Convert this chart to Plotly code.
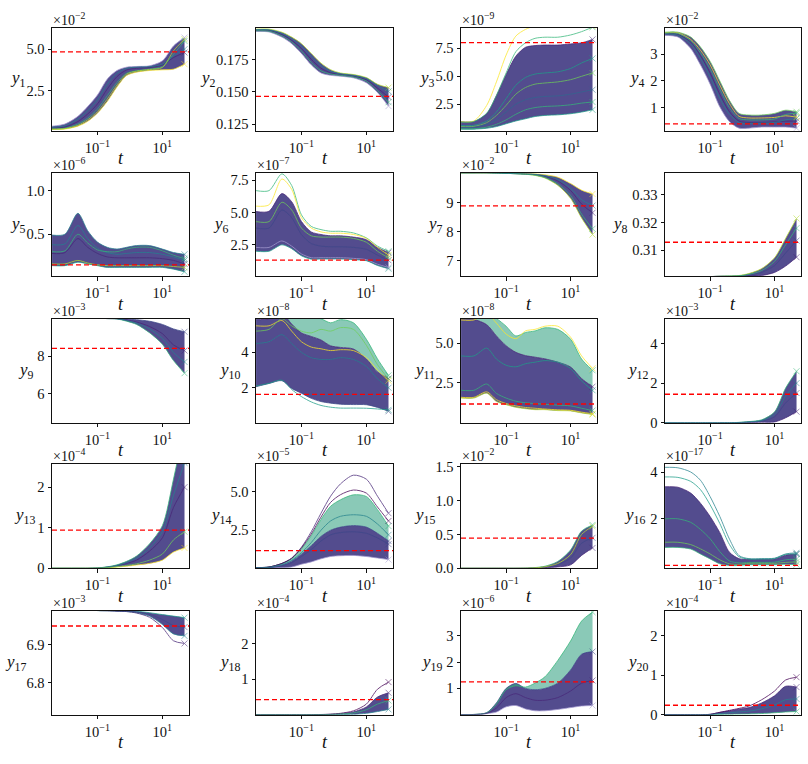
import plotly.graph_objects as go
from plotly.subplots import make_subplots

W, H = 808, 764

# time grid (shared by all panels)
T = [0.004, 0.01, 0.025, 0.05, 0.1, 0.2, 0.4, 0.79, 1.6, 4.0, 10, 22, 48]

# viridis colours
V = ['#440154', '#482878', '#3e4989', '#31688e', '#26828e',
     '#1f9e89', '#35b779', '#6ece58', '#b5de2b', '#fde725']
LAV = '#a49ad0'
CORE = 'rgba(64,56,130,0.9)'
OUTER = 'rgba(60,165,135,0.6)'

# ---- panel data (mantissas; exponent in EXPS) ----
Y1 = [[0.17, 0.2, 0.37, 0.66, 1.15, 1.85, 2.73, 3.42, 3.62, 3.72, 3.76, 3.8, 4.1],
      [0.37, 0.5, 0.96, 1.55, 2.24, 3.2, 3.72, 3.92, 3.96, 4.0, 4.3, 5.2, 5.7],
      [0.25, 0.32, 0.65, 1.1, 1.7, 2.6, 3.35, 3.75, 3.85, 3.9, 4.05, 4.5, 4.8],
      [0.2, 0.25, 0.5, 0.85, 1.4, 2.2, 3.0, 3.55, 3.7, 3.8, 3.95, 4.7, 5.5],
      [0.3, 0.4, 0.8, 1.3, 1.95, 2.9, 3.55, 3.85, 3.92, 3.95, 4.1, 4.6, 5.0],
      [0.19, 0.22, 0.42, 0.75, 1.25, 2.0, 2.85, 3.5, 3.68, 3.78, 3.9, 4.9, 5.6]]
Y1_C = [V[9], LAV, V[1], V[6], V[4], V[8]]

Y2 = [[0.1972, 0.1968, 0.1928, 0.1877, 0.1801, 0.1712, 0.1648, 0.1630, 0.1623, 0.1610, 0.1572, 0.1496, 0.1390],
      [0.1990, 0.1990, 0.1966, 0.1928, 0.1877, 0.1801, 0.1725, 0.1674, 0.1648, 0.1636, 0.1612, 0.1560, 0.1534],
      [0.1982, 0.1980, 0.1948, 0.1903, 0.1839, 0.1755, 0.1685, 0.1650, 0.1636, 0.1623, 0.1595, 0.1530, 0.1460],
      [0.1977, 0.1974, 0.1938, 0.1890, 0.1820, 0.1730, 0.1665, 0.1640, 0.1630, 0.1617, 0.1585, 0.1510, 0.1420],
      [0.1986, 0.1985, 0.1957, 0.1915, 0.1858, 0.1778, 0.1705, 0.1662, 0.1642, 0.1630, 0.1605, 0.1550, 0.1505]]
Y2_C = [LAV, V[8], V[1], V[6], V[4]]

Y3 = [[0.27, 0.27, 0.35, 0.5, 0.75, 1.0, 1.2, 1.4, 1.5, 1.55, 1.65, 1.8, 2.0],
      [0.93, 0.95, 1.66, 3.26, 5.15, 6.8, 7.6, 7.75, 7.8, 7.8, 7.9, 8.0, 8.3],
      [0.93, 1.0, 2.4, 4.5, 6.9, 8.6, 9.2, 9.5, 9.5, 9.5, 9.5, 9.5, 9.5],
      [0.9, 0.95, 1.7, 3.3, 5.3, 7.2, 8.0, 8.4, 8.5, 8.5, 8.7, 9.0, 9.4],
      [0.6, 0.62, 1.0, 1.8, 3.0, 4.2, 4.9, 5.2, 5.3, 5.4, 5.7, 6.2, 6.6],
      [0.5, 0.52, 0.85, 1.5, 2.4, 3.4, 4.0, 4.3, 4.4, 4.5, 4.7, 5.0, 5.3],
      [0.4, 0.42, 0.7, 1.1, 1.8, 2.5, 2.9, 3.1, 3.2, 3.25, 3.4, 3.6, 3.8],
      [0.3, 0.31, 0.45, 0.7, 1.1, 1.6, 2.0, 2.2, 2.3, 2.35, 2.45, 2.6, 2.7]]
Y3_C = [V[5], V[1], V[9], V[6], V[5], V[7], V[3], V[6]]

Y4 = [[3.70, 3.64, 3.21, 2.60, 1.88, 1.03, 0.48, 0.24, 0.24, 0.28, 0.28, 0.28, 0.24],
      [3.82, 3.82, 3.64, 3.27, 2.73, 2.00, 1.27, 0.79, 0.73, 0.73, 0.79, 0.91, 0.85],
      [3.78, 3.74, 3.45, 2.95, 2.30, 1.50, 0.85, 0.50, 0.45, 0.45, 0.47, 0.50, 0.50],
      [3.76, 3.70, 3.38, 2.85, 2.15, 1.35, 0.75, 0.45, 0.42, 0.43, 0.45, 0.55, 0.60],
      [3.80, 3.79, 3.55, 3.15, 2.60, 1.85, 1.15, 0.68, 0.62, 0.62, 0.64, 0.70, 0.65],
      [3.79, 3.77, 3.50, 3.05, 2.45, 1.70, 1.00, 0.60, 0.55, 0.55, 0.58, 0.75, 0.80]]
Y4_C = [LAV, V[7], V[1], V[4], V[9], V[6]]

Y5 = [[0.14, 0.14, 0.18, 0.16, 0.14, 0.12, 0.12, 0.12, 0.12, 0.12, 0.12, 0.10, 0.07],
      [0.49, 0.50, 0.74, 0.54, 0.41, 0.35, 0.33, 0.35, 0.37, 0.37, 0.33, 0.29, 0.27],
      [0.28, 0.29, 0.45, 0.35, 0.28, 0.24, 0.23, 0.23, 0.23, 0.23, 0.22, 0.20, 0.16],
      [0.38, 0.39, 0.60, 0.45, 0.34, 0.29, 0.27, 0.28, 0.29, 0.29, 0.27, 0.24, 0.20],
      [0.30, 0.31, 0.50, 0.40, 0.32, 0.30, 0.30, 0.33, 0.35, 0.35, 0.31, 0.26, 0.22],
      [0.16, 0.16, 0.20, 0.17, 0.15, 0.14, 0.14, 0.14, 0.14, 0.14, 0.14, 0.13, 0.12]]
Y5_C = [V[5], V[4], V[1], V[4], V[6], V[8]]

Y6 = [[2.0, 2.0, 2.5, 2.2, 1.65, 1.39, 1.4, 1.4, 1.4, 1.35, 1.27, 0.9, 0.65],
      [5.08, 5.1, 6.47, 5.84, 4.31, 3.5, 3.3, 3.2, 3.2, 3.1, 2.9, 2.3, 1.9],
      [6.7, 6.7, 8.0, 7.1, 4.82, 3.93, 3.68, 3.55, 3.55, 3.42, 3.04, 2.4, 2.0],
      [5.5, 5.6, 7.6, 6.8, 4.6, 3.8, 3.5, 3.4, 3.4, 3.3, 3.0, 2.3, 1.7],
      [2.3, 2.3, 2.8, 2.4, 1.8, 1.5, 1.5, 1.5, 1.5, 1.45, 1.35, 1.0, 0.75],
      [3.8, 3.8, 5.2, 4.6, 3.3, 2.6, 2.4, 2.35, 2.35, 2.3, 2.15, 1.7, 1.3],
      [4.3, 4.3, 5.8, 5.2, 3.8, 3.2, 3.1, 3.1, 3.1, 3.0, 2.7, 2.0, 1.5]]
Y6_C = [V[5], V[1], V[6], V[9], LAV, V[2], V[7]]

Y7 = [[10.03, 10.03, 10.03, 10.02, 10.01, 10.0, 9.98, 9.94, 9.85, 9.6, 9.15, 8.47, 7.9],
      [10.03, 10.03, 10.03, 10.03, 10.02, 10.01, 10.0, 9.99, 9.96, 9.88, 9.66, 9.43, 9.3],
      [10.03, 10.03, 10.03, 10.02, 10.01, 10.0, 9.99, 9.97, 9.91, 9.75, 9.42, 8.95, 8.65],
      [10.03, 10.03, 10.03, 10.02, 10.01, 10.0, 9.98, 9.95, 9.87, 9.65, 9.25, 8.6, 8.1],
      [10.03, 10.03, 10.03, 10.02, 10.01, 10.0, 9.99, 9.98, 9.93, 9.8, 9.5, 9.1, 8.9]]
Y7_C = [V[8], V[9], V[1], V[6], V[4]]

Y8 = [[0.3003, 0.3003, 0.3003, 0.3004, 0.3005, 0.3006, 0.3006, 0.3006, 0.3007, 0.3009, 0.3020, 0.3043, 0.3075],
      [0.3003, 0.3003, 0.3003, 0.3004, 0.3005, 0.3006, 0.3007, 0.3009, 0.3016, 0.3034, 0.3073, 0.3143, 0.3215],
      [0.3003, 0.3003, 0.3003, 0.3004, 0.3005, 0.3006, 0.3006, 0.3007, 0.3011, 0.3020, 0.3045, 0.3090, 0.3135],
      [0.3003, 0.3003, 0.3003, 0.3004, 0.3005, 0.3006, 0.3007, 0.3008, 0.3013, 0.3027, 0.3060, 0.3120, 0.3180]]
Y8_C = [V[1], V[8], V[2], V[6]]

Y9 = [[10.05, 10.05, 10.05, 10.05, 10.02, 10.0, 9.98, 9.86, 9.69, 9.25, 8.64, 7.77, 7.1],
      [10.05, 10.05, 10.05, 10.05, 10.03, 10.01, 10.0, 9.98, 9.94, 9.86, 9.69, 9.45, 9.3],
      [10.05, 10.05, 10.05, 10.05, 10.02, 10.0, 9.99, 9.93, 9.82, 9.58, 9.2, 8.6, 8.3],
      [10.05, 10.05, 10.05, 10.05, 10.02, 10.0, 9.99, 9.9, 9.76, 9.45, 8.95, 8.2, 7.7]]
Y9_C = [V[6], V[2], V[1], V[4]]

Y10 = [[2.06, 2.24, 2.4, 1.96, 1.69, 1.4, 1.22, 1.13, 1.07, 1.05, 1.04, 0.89, 0.67],
       [5.85, 5.9, 6.2, 5.6, 5.1, 4.9, 4.7, 4.37, 4.28, 4.19, 3.63, 2.89, 2.52],
       [6.0, 6.0, 6.5, 6.3, 6.1, 6.0, 5.9, 5.67, 5.85, 5.67, 4.74, 3.63, 2.7],
       [2.1, 2.25, 2.43, 1.9, 1.5, 1.2, 1.0, 0.9, 0.85, 0.85, 0.84, 0.8, 0.75],
       [4.5, 4.6, 5.0, 4.5, 4.0, 3.7, 3.6, 3.6, 3.7, 3.6, 3.2, 2.5, 2.0],
       [5.5, 5.5, 5.8, 5.2, 4.6, 4.3, 4.2, 4.1, 4.15, 4.1, 3.7, 3.0, 2.4],
       [5.2, 5.3, 5.9, 5.5, 5.2, 5.1, 5.3, 5.2, 5.4, 5.3, 4.4, 3.3, 2.5]]
Y10_C = [V[2], V[1], V[6], V[5], V[4], V[9], V[7]]

Y11 = [[1.5, 1.5, 1.81, 1.28, 1.08, 0.91, 0.82, 0.76, 0.76, 0.7, 0.68, 0.55, 0.45],
       [6.53, 6.53, 6.2, 5.48, 4.85, 4.43, 4.22, 4.12, 4.01, 3.8, 3.49, 2.75, 2.23],
       [6.8, 6.8, 7.0, 6.6, 6.1, 5.48, 5.7, 5.8, 6.0, 5.9, 5.27, 4.0, 3.28],
       [6.5, 6.5, 6.9, 6.3, 5.6, 5.3, 5.8, 5.9, 6.1, 6.1, 5.4, 4.2, 3.4],
       [1.55, 1.55, 1.9, 1.4, 1.15, 1.0, 0.9, 0.85, 0.8, 0.75, 0.72, 0.6, 0.5],
       [2.0, 2.0, 2.4, 1.8, 1.5, 1.3, 1.2, 1.15, 1.1, 1.05, 1.0, 0.85, 0.7],
       [4.2, 4.2, 4.7, 4.0, 3.6, 3.5, 3.7, 3.8, 3.9, 3.8, 3.4, 2.6, 2.0]]
Y11_C = [V[8], V[1], V[6], V[9], V[9], V[6], V[5]]

Y12 = [[0, 0, 0, 0, 0, 0, 0, 0, 0.005, 0.02, 0.04, 0.25, 0.56],
       [0, 0, 0, 0, 0, 0, 0.005, 0.02, 0.06, 0.15, 0.55, 1.75, 2.6],
       [0, 0, 0, 0, 0, 0, 0.003, 0.01, 0.03, 0.08, 0.3, 1.0, 1.5],
       [0, 0, 0, 0, 0, 0, 0.004, 0.015, 0.045, 0.12, 0.42, 1.35, 2.0]]
Y12_C = [V[1], V[6], V[2], V[4]]

Y13 = [[0, 0, 0, 0, 0.002, 0.01, 0.03, 0.05, 0.08, 0.12, 0.2, 0.4, 0.5],
       [0, 0, 0, 0, 0.008, 0.035, 0.085, 0.17, 0.3, 0.6, 1.05, 2.2, 3.5],
       [0, 0, 0, 0, 0.006, 0.025, 0.06, 0.12, 0.2, 0.42, 0.75, 1.5, 2.0],
       [0, 0, 0, 0, 0.007, 0.03, 0.07, 0.14, 0.25, 0.5, 0.9, 1.8, 2.6],
       [0, 0, 0, 0, 0.003, 0.015, 0.04, 0.07, 0.11, 0.2, 0.35, 0.7, 0.9]]
Y13_C = [V[9], V[6], V[1], V[4], V[7]]

Y14 = [[0.05, 0.06, 0.07, 0.12, 0.3, 0.45, 0.65, 0.8, 0.85, 0.87, 0.8, 0.7, 0.6],
       [0.07, 0.1, 0.25, 0.5, 0.95, 1.5, 2.1, 2.5, 2.7, 2.8, 2.7, 2.3, 1.8],
       [0.08, 0.12, 0.35, 0.65, 1.29, 2.14, 3.2, 4.05, 4.47, 4.79, 4.68, 3.83, 2.77],
       [0.08, 0.12, 0.35, 0.7, 1.4, 2.4, 3.6, 4.7, 5.5, 6.06, 5.8, 4.7, 3.6],
       [0.08, 0.12, 0.35, 0.68, 1.35, 2.25, 3.35, 4.3, 4.8, 5.1, 4.9, 4.0, 3.1],
       [0.06, 0.08, 0.2, 0.4, 0.8, 1.25, 1.8, 2.2, 2.35, 2.4, 2.3, 2.0, 1.6],
       [0.07, 0.1, 0.28, 0.55, 1.05, 1.7, 2.5, 3.1, 3.4, 3.5, 3.4, 2.9, 2.2]]
Y14_C = [LAV, V[2], V[6], V[1], V[0], V[2], V[4]]

Y15 = [[0, 0, 0, 0, 0, 0, 0, 0.002, 0.01, 0.02, 0.05, 0.19, 0.3],
       [0, 0, 0, 0, 0, 0, 0.002, 0.01, 0.03, 0.1, 0.27, 0.55, 0.64],
       [0, 0, 0, 0, 0, 0, 0.001, 0.005, 0.02, 0.055, 0.15, 0.37, 0.45],
       [0, 0, 0, 0, 0, 0, 0.001, 0.006, 0.022, 0.07, 0.2, 0.5, 0.62]]
Y15_C = [V[1], V[6], V[2], V[8]]

Y16 = [[0.78, 0.78, 0.71, 0.5, 0.29, 0.08, 0.01, 0.01, 0.04, 0.04, 0.04, 0.06, 0.04],
       [3.37, 3.35, 3.1, 2.67, 2.1, 1.41, 0.57, 0.3, 0.27, 0.27, 0.29, 0.45, 0.5],
       [4.2, 4.18, 4.0, 3.65, 2.95, 2.1, 1.13, 0.43, 0.3, 0.3, 0.32, 0.5, 0.55],
       [3.79, 3.77, 3.6, 3.25, 2.6, 1.8, 0.9, 0.38, 0.28, 0.28, 0.3, 0.48, 0.5],
       [2.0, 2.0, 1.85, 1.55, 1.15, 0.6, 0.2, 0.12, 0.14, 0.14, 0.15, 0.25, 0.28],
       [1.0, 1.0, 0.9, 0.72, 0.5, 0.25, 0.08, 0.06, 0.1, 0.1, 0.1, 0.14, 0.16]]
Y16_C = [V[6], V[1], V[4], V[5], V[6], V[7]]

Y17 = [[7.0, 7.0, 7.0, 6.995, 6.9895, 6.989, 6.988, 6.987, 6.984, 6.975, 6.953, 6.928, 6.923],
       [7.0, 7.0, 7.0, 6.998, 6.992, 6.991, 6.990, 6.989, 6.988, 6.984, 6.979, 6.975, 6.971],
       [7.0, 7.0, 7.0, 6.996, 6.990, 6.989, 6.988, 6.987, 6.983, 6.972, 6.945, 6.91, 6.903],
       [7.0, 7.0, 7.0, 6.996, 6.991, 6.990, 6.989, 6.988, 6.986, 6.980, 6.966, 6.95, 6.946]]
Y17_C = [V[4], V[5], V[1], V[2]]

Y18 = [[0, 0, 0, 0, 0, 0, 0, 0.002, 0.005, 0.01, 0.04, 0.09, 0.15],
       [0, 0, 0, 0, 0, 0.002, 0.005, 0.012, 0.03, 0.08, 0.22, 0.5, 0.62],
       [0, 0, 0, 0, 0, 0.002, 0.006, 0.015, 0.04, 0.11, 0.3, 0.72, 0.92],
       [0, 0, 0, 0, 0, 0.001, 0.003, 0.008, 0.02, 0.05, 0.14, 0.3, 0.4]]
Y18_C = [V[4], V[1], V[0], V[6]]

Y19 = [[0, 0, 0.04, 0.1, 0.3, 0.35, 0.22, 0.15, 0.15, 0.2, 0.27, 0.33, 0.35],
       [0, 0.01, 0.08, 0.45, 1.0, 1.19, 1.0, 0.95, 1.0, 1.2, 1.7, 2.3, 2.4],
       [0, 0.01, 0.07, 0.4, 0.95, 1.1, 1.05, 1.2, 1.44, 2.06, 2.8, 3.56, 3.9],
       [0, 0.005, 0.05, 0.25, 0.65, 0.8, 0.65, 0.55, 0.55, 0.65, 0.9, 1.2, 1.3]]
Y19_C = [LAV, V[2], V[6], V[1]]

Y20 = [[0, 0, 0, 0, 0, 0.005, 0.01, 0.015, 0.02, 0.03, 0.05, 0.07, 0.08],
       [0, 0, 0, 0, 0.01, 0.06, 0.1, 0.14, 0.18, 0.3, 0.48, 0.72, 0.7],
       [0, 0, 0, 0, 0.01, 0.06, 0.11, 0.16, 0.22, 0.38, 0.6, 0.88, 0.95],
       [0, 0, 0, 0, 0.005, 0.03, 0.05, 0.07, 0.09, 0.15, 0.25, 0.38, 0.4]]
Y20_C = [V[6], V[1], V[0], V[4]]

CURVES = [Y1, Y2, Y3, Y4, Y5, Y6, Y7, Y8, Y9, Y10, Y11, Y12, Y13, Y14, Y15, Y16, Y17, Y18, Y19, Y20]
COLS = [Y1_C, Y2_C, Y3_C, Y4_C, Y5_C, Y6_C, Y7_C, Y8_C, Y9_C, Y10_C, Y11_C, Y12_C, Y13_C, Y14_C,
        Y15_C, Y16_C, Y17_C, Y18_C, Y19_C, Y20_C]

# reference (red dashed) levels
RED = [4.84, 0.1466, 8.02, 0.40, 0.15, 1.32, 8.89, 0.3129, 8.42, 1.63,
       1.12, 1.44, 0.94, 1.18, 0.444, 0.015, 6.949, 0.426, 1.25, 0.24]

EXPS = [-2, None, -9, -2, -6, -7, -2, None, -3, -8, -8, -3, -4, -5, -2, -17, -3, -4, -6, -4]

YRANGES = [[0.09, 6.3], [0.1197, 0.2002], [0.12, 9.36], [0.14, 3.99], [0.018, 1.2],
           [0.06, 8.06], [6.46, 10.02], [0.3006, 0.3379], [4.47, 10.0], [0.02, 5.91],
           [-0.08, 6.59], [0, 5.26], [0, 2.57], [0.04, 6.78], [0, 1.54],
           [-0.11, 4.34], [6.7155, 6.9897], [0, 2.94], [0, 3.96], [0, 2.64]]

YTICKS = [[2.5, 5.0], [0.125, 0.150, 0.175], [2.5, 5.0, 7.5], [1, 2, 3], [0.5, 1.0],
          [2.5, 5.0, 7.5], [7, 8, 9], [0.31, 0.32, 0.33], [6, 8], [2, 4],
          [2.5, 5.0], [0, 2, 4], [0, 1, 2], [2.5, 5.0], [0.0, 0.5, 1.0, 1.5],
          [2, 4], [6.8, 6.9], [1, 2], [1, 2, 3], [0, 1, 2]]
YTICKTEXT = [["2.5", "5.0"], ["0.125", "0.150", "0.175"], ["2.5", "5.0", "7.5"], ["1", "2", "3"],
             ["0.5", "1.0"], ["2.5", "5.0", "7.5"], ["7", "8", "9"], ["0.31", "0.32", "0.33"],
             ["6", "8"], ["2", "4"], ["2.5", "5.0"], ["0", "2", "4"], ["0", "1", "2"],
             ["2.5", "5.0"], ["0.0", "0.5", "1.0", "1.5"], ["2", "4"], ["6.8", "6.9"],
             ["1", "2"], ["1", "2", "3"], ["0", "1", "2"]]

XTICKS = [0.1, 10]
XTICKTEXT = ["10<sup>−1</sup>", "10<sup>1</sup>"]

# ---- layout geometry (pixels) ----
COL_PX = [(52, 189), (256, 393), (461, 597), (665, 801)]
ROW_PX = [(23, 128), (171, 276), (319, 425), (467, 573), (616, 722)]
LAB_OFF = [25, 39, 25, 19, 25, 26, 17, 36, 17, 15, 25, 16, 16, 24, 25, 19, 25, 15, 18, 16]

BANDS = {k: [(0, 1, CORE)] for k in range(20)}
BANDS[9] = [(0, 1, CORE), (1, 2, OUTER)]
BANDS[10] = [(0, 1, CORE), (1, 2, OUTER)]
BANDS[13] = [(0, 1, CORE), (1, 2, OUTER)]
BANDS[18] = [(0, 1, CORE), (1, 2, OUTER)]

FONT = "Liberation Serif"
TXT = '#111'

fig = make_subplots(rows=5, cols=4)
annotations = []
shapes = []
for k in range(20):
    r, c = divmod(k, 4)
    xa = 'x' if k == 0 else f'x{k + 1}'
    ya = 'y' if k == 0 else f'y{k + 1}'
    curves = CURVES[k]
    cols = COLS[k]
    for (i, j, fc) in BANDS[k]:
        fig.add_trace(go.Scatter(x=T, y=curves[i], mode='lines', hoverinfo='skip',
                                 line=dict(width=0, shape='spline', smoothing=0.8),
                                 xaxis=xa, yaxis=ya))
        fig.add_trace(go.Scatter(x=T, y=curves[j], mode='lines', hoverinfo='skip',
                                 line=dict(width=0, shape='spline', smoothing=0.8),
                                 fill='tonexty', fillcolor=fc, xaxis=xa, yaxis=ya))
    for cv, colr in zip(curves, cols):
        fig.add_trace(go.Scatter(
            x=T, y=cv, mode='lines+markers', opacity=0.75,
            line=dict(color=colr, width=1, shape='spline', smoothing=0.8),
            marker=dict(symbol='x-thin', size=[0] * (len(T) - 1) + [6],
                        line=dict(color=colr, width=1)),
            xaxis=xa, yaxis=ya))

    x0, x1 = COL_PX[c]
    y0, y1 = ROW_PX[r]
    axfont = dict(family=FONT, size=14.5, color=TXT)
    fig.update_layout({
        ('xaxis' if k == 0 else f'xaxis{k + 1}'): dict(
            domain=[x0 / W, x1 / W], type='log', range=[-2.4, 1.82],
            tickvals=XTICKS, ticktext=XTICKTEXT, ticks='outside', ticklen=3.5,
            tickcolor='#111', showline=True, mirror=True, linecolor='#111', linewidth=1,
            showgrid=False, zeroline=False, tickfont=axfont),
        ('yaxis' if k == 0 else f'yaxis{k + 1}'): dict(
            domain=[1 - y1 / H, 1 - y0 / H], range=YRANGES[k],
            tickvals=YTICKS[k], ticktext=YTICKTEXT[k], ticks='outside', ticklen=3.5,
            tickcolor='#111', showline=True, mirror=True, linecolor='#111', linewidth=1,
            showgrid=False, zeroline=False, tickfont=axfont),
    })
    shapes.append(dict(type='line', xref=f'{xa} domain', yref=ya, x0=0, x1=1,
                       y0=RED[k], y1=RED[k], line=dict(color='red', width=1.3, dash='5px,3px')))
    if EXPS[k] is not None:
        annotations.append(dict(x=x0 / W, y=1 - (y0 + 1) / H, xref='paper', yref='paper',
                                xanchor='left', yanchor='bottom', showarrow=False, borderpad=0,
                                text=f"×10<sup>−{abs(EXPS[k])}</sup>",
                                font=dict(family=FONT, size=14, color=TXT)))
    annotations.append(dict(x=(x0 - LAB_OFF[k]) / W, y=1 - ((y0 + y1) / 2) / H, xref='paper',
                            yref='paper', xanchor='right', yanchor='middle', showarrow=False,
                            borderpad=0, text=f"<i>y</i><sub>{k + 1}</sub>",
                            font=dict(family=FONT, size=17, color=TXT)))
    annotations.append(dict(x=((x0 + x1) / 2) / W, y=1 - (y1 + 28) / H, xref='paper',
                            yref='paper', xanchor='center', yanchor='middle', showarrow=False,
                            borderpad=0, text="<i>t</i>",
                            font=dict(family=FONT, size=18, color=TXT)))

fig.update_layout(width=W, height=H, margin=dict(l=0, r=0, t=0, b=0),
                  plot_bgcolor='white', paper_bgcolor='white', showlegend=False,
                  annotations=annotations, shapes=shapes)

fig.write_html("out.html")
